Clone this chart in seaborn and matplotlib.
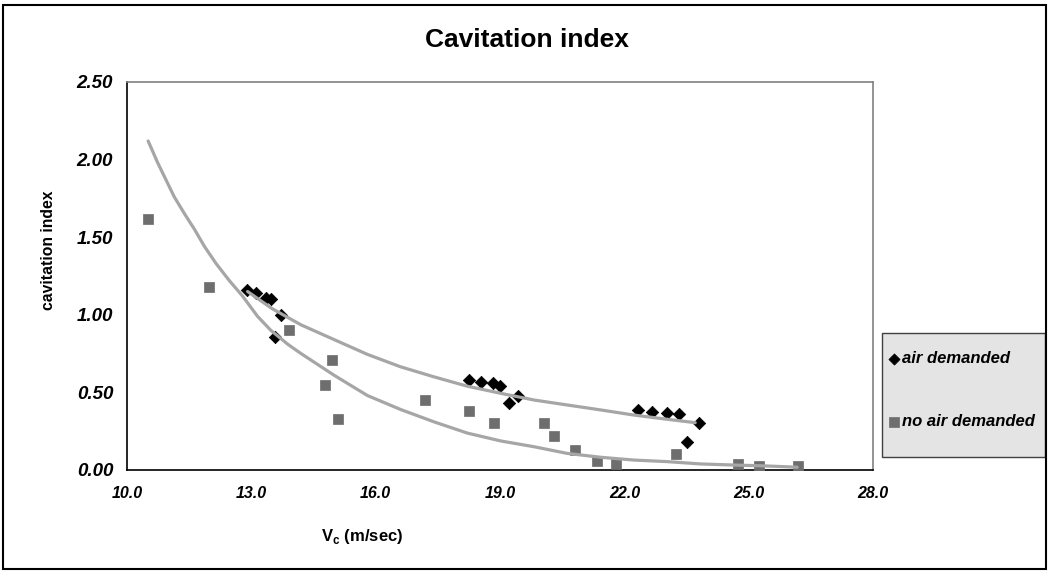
import pandas as pd
import seaborn as sns
import matplotlib.pyplot as plt
from matplotlib.patches import Rectangle

air_v = [12.90, 13.12, 13.35, 13.47, 13.71, 13.57, 18.24, 18.54, 18.84, 19.01, 19.43, 19.22,
         22.33, 22.67, 23.04, 23.31, 23.79, 23.52]
air_sigma = [1.16, 1.14, 1.11, 1.10, 1.00, 0.86, 0.58, 0.57, 0.56, 0.54, 0.48, 0.43,
             0.385, 0.376, 0.367, 0.361, 0.30, 0.18]

noair_v = [10.50, 11.99, 13.92, 14.94, 14.77, 15.10, 17.19, 18.26, 18.86, 20.05, 20.30, 20.82,
           21.33, 21.80, 23.25, 24.74, 25.25, 26.19]
noair_sigma = [1.62, 1.18, 0.90, 0.71, 0.55, 0.33, 0.45, 0.38, 0.30, 0.30, 0.22, 0.13,
               0.06, 0.037, 0.105, 0.039, 0.028, 0.026]

# trendlines
trend_air_v = [12.91, 13.5, 14.2, 15.0, 15.8, 16.6, 17.41, 18.21, 19.02, 19.82, 20.62,
               21.43, 22.23, 23.03, 23.71]
trend_air_sigma = [1.15, 1.04, 0.935, 0.84, 0.745, 0.665, 0.60, 0.54, 0.494, 0.451, 0.419,
                   0.387, 0.354, 0.327, 0.305]

trend_noair_v = [10.51, 10.74, 10.94, 11.14, 11.39, 11.63, 11.87, 12.15, 12.47, 12.79, 13.15,
                 13.47, 13.88, 14.2, 15.0, 15.8, 16.6, 17.41, 18.21, 19.02, 19.82, 20.62,
                 21.43, 22.23, 23.03, 23.84, 24.64, 25.44, 26.17]
trend_noair_sigma = [2.12, 1.98, 1.87, 1.76, 1.65, 1.55, 1.44, 1.33, 1.22, 1.12, 0.99,
                     0.90, 0.81, 0.75, 0.61, 0.48, 0.39, 0.31, 0.238, 0.187, 0.15, 0.107,
                     0.082, 0.064, 0.054, 0.039, 0.032, 0.026, 0.018]

x_ticks = [10.0, 13.0, 16.0, 19.0, 22.0, 25.0, 28.0]
y_ticks = [0.0, 0.5, 1.0, 1.5, 2.0, 2.5]

sns.set_style('white')
plt.rcParams['font.family'] = ['Liberation Sans', 'DejaVu Sans']
plt.rcParams['text.color'] = 'black'
plt.rcParams['axes.labelcolor'] = 'black'
plt.rcParams['xtick.color'] = 'black'
plt.rcParams['ytick.color'] = 'black'
narrow = ['Liberation Sans Narrow', 'Liberation Sans', 'DejaVu Sans']

fig = plt.figure(figsize=(10.48, 5.71), dpi=100)
ax = fig.add_axes([127 / 1048, 101 / 571, 746 / 1048, 388 / 571])

sns.lineplot(x=trend_air_v, y=trend_air_sigma, ax=ax, color='#a6a6a6', linewidth=2.3,
             zorder=4, estimator=None, sort=False)
sns.lineplot(x=trend_noair_v, y=trend_noair_sigma, ax=ax, color='#a6a6a6', linewidth=2.3,
             zorder=4, estimator=None, sort=False)

sns.scatterplot(x=air_v, y=air_sigma, ax=ax, marker='D', s=40, color='black',
                edgecolor='black', linewidth=0.5, zorder=3, label='air demanded')
sns.scatterplot(x=noair_v, y=noair_sigma, ax=ax, marker='s', s=62, color='#6e6e6e',
                edgecolor='#6e6e6e', linewidth=0.5, zorder=3, label='no air demanded')

ax.set_xlim(10, 28)
ax.set_ylim(0, 2.5)
ax.set_xticks(x_ticks)
ax.set_yticks(y_ticks)
ax.set_xticklabels([f'{v:.1f}' for v in x_ticks], fontsize=11.5, fontweight='bold',
                   style='italic', family=narrow)
ax.set_yticklabels([f'{v:.2f}' for v in y_ticks], fontsize=13.5, fontweight='bold', style='italic')
ax.tick_params(axis='both', direction='out', length=5, width=1, pad=5)
ax.tick_params(axis='x', direction='inout', length=7, pad=8)

for side in ['left', 'bottom']:
    ax.spines[side].set_color('black')
    ax.spines[side].set_linewidth(1.2)
for side in ['top', 'right']:
    ax.spines[side].set_color('#808080')
    ax.spines[side].set_linewidth(1.2)

ax.set_xlabel('V$_\\mathregular{c}$ (m/sec)', fontsize=12, fontweight='bold', family=narrow)
ax.xaxis.set_label_coords((362 - 127) / 746, (470 - 527) / 388)
ax.set_ylabel('cavitation index', fontsize=11.3, fontweight='bold')
ax.yaxis.set_label_coords((56 - 127) / 746, (470 - 250) / 388)
fig.text(527 / 1048, 1 - 40 / 571, 'Cavitation index', ha='center', va='center',
         fontsize=19, fontweight='bold')

# legend box
handles, labels = ax.get_legend_handles_labels()
ax.get_legend().remove()
fig.patches.append(Rectangle((882 / 1048, 1 - 457 / 571), 163 / 1048, 124 / 571,
                             transform=fig.transFigure, facecolor='#e4e4e4',
                             edgecolor='#404040', linewidth=1, zorder=0))
fig.legend(handles, labels, loc='upper left', bbox_to_anchor=(871 / 1048, 1 - 336 / 571),
           frameon=False, prop={'weight': 'bold', 'style': 'italic', 'size': 12},
           handletextpad=0.05, handlelength=0.9, labelspacing=2.9, markerscale=0.9)

# outer chart border
fig.patches.append(Rectangle((3 / 1048, 2 / 571), 1043 / 1048, 564 / 571,
                             transform=fig.transFigure, fill=False,
                             edgecolor='black', linewidth=1.5))

fig.savefig('out.png', dpi=100)
